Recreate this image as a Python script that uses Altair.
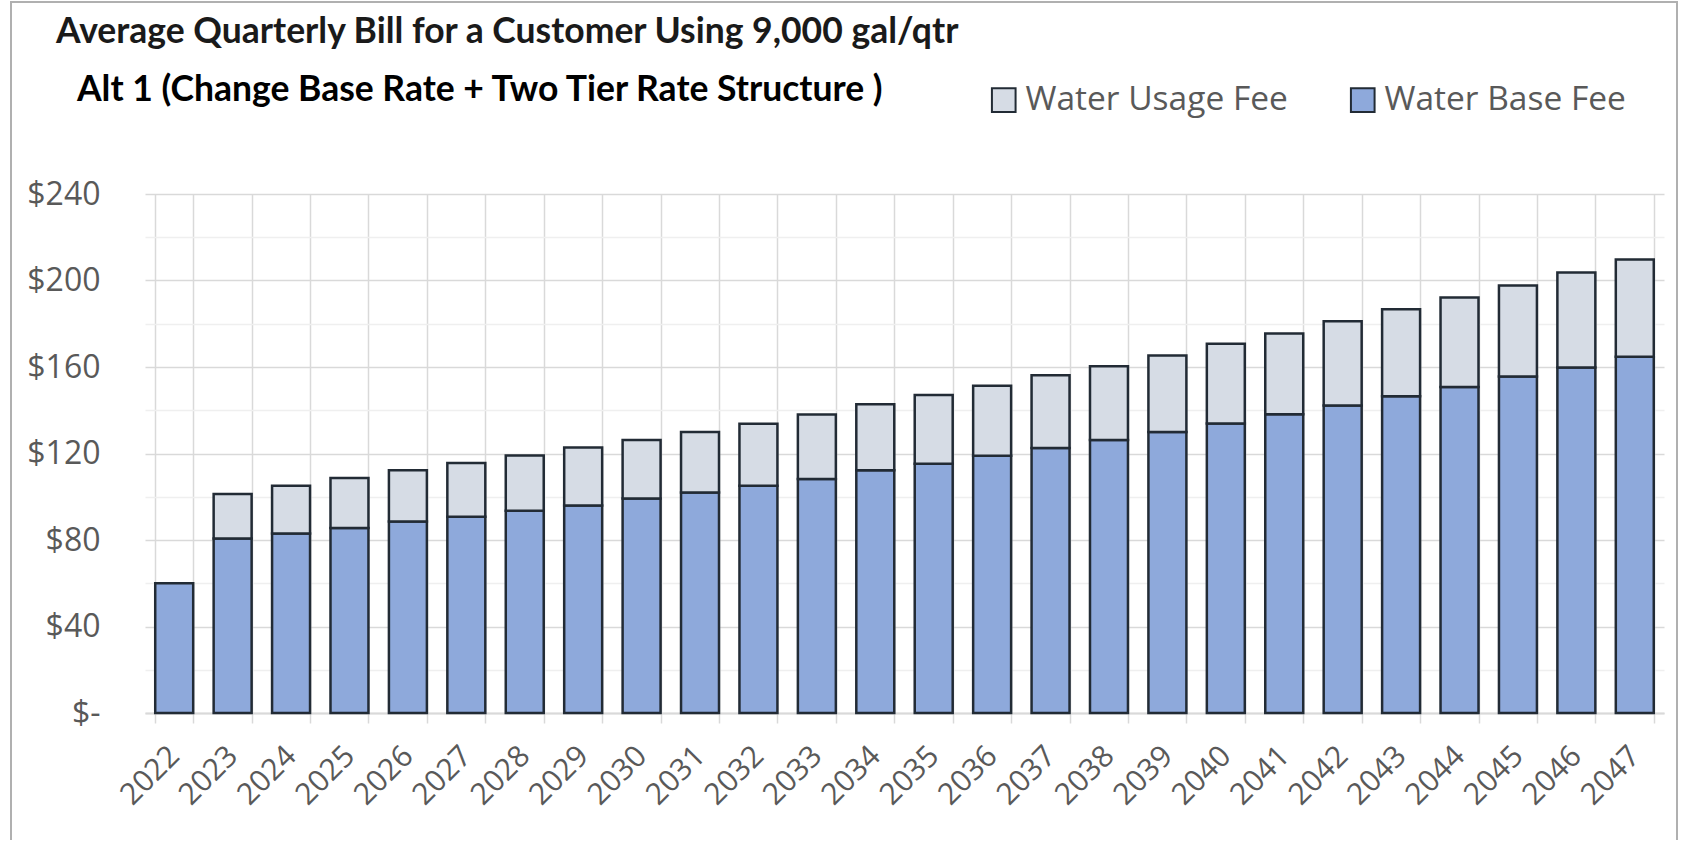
import altair as alt
import pandas as pd

# Quarterly bill components per year (USD)
years = [str(y) for y in range(2022, 2048)]
base_fee = [60.0, 80.7, 83.0, 85.5, 88.6, 90.7, 93.5, 96.0, 99.2, 102.0, 105.1, 108.2, 112.3,
            115.3, 119.0, 122.6, 126.3, 130.0, 133.9, 138.1, 142.2, 146.5, 150.7, 155.6, 159.8, 164.7]
usage_fee = [None, 20.6, 22.1, 23.2, 23.6, 24.9, 25.6, 26.8, 27.1, 28.0, 28.7, 29.8, 30.5,
             31.7, 32.3, 33.6, 34.1, 35.3, 36.8, 37.4, 39.0, 40.2, 41.4, 42.1, 43.9, 45.0]

series = ["Water Usage Fee", "Water Base Fee"]
series_colors = ["#D6DCE5", "#8EA9DB"]

title_text = "Average Quarterly Bill for a Customer Using 9,000 gal/qtr"
subtitle_text = "Alt 1 (Change Base Rate + Two Tier Rate Structure )"

rows = []
for yr, b, u in zip(years, base_fee, usage_fee):
    rows.append({"year": yr, "series": "Water Base Fee", "value": b, "rank": 0})
    if u is not None:
        rows.append({"year": yr, "series": "Water Usage Fee", "value": u, "rank": 1})
df = pd.DataFrame(rows)

LABEL_GREY = "#595959"
GRID = "#D9D9D9"
EDGE = "#222B35"

bars = alt.Chart(df).mark_bar(stroke=EDGE, strokeWidth=2.5, opacity=1).encode(
    x=alt.X(
        "year:N",
        sort=years,
        scale=alt.Scale(paddingInner=0.35, paddingOuter=0.175),
        axis=alt.Axis(
            title=None,
            labelAngle=-45,
            labelAlign="right",
            labelBaseline="middle",
            labelFont="Open Sans",
            labelFontSize=30,
            labelColor=LABEL_GREY,
            labelPadding=28,
            tickBand="extent",
            ticks=True,
            tickSize=10,
            tickColor=GRID,
            tickWidth=1.5,
            grid=True,
            gridColor=GRID,
            gridWidth=1.5,
            domainColor=GRID,
            domainWidth=2,
        ),
    ),
    y=alt.Y(
        "value:Q",
        stack="zero",
        scale=alt.Scale(domain=[0, 240], nice=False),
        axis=alt.Axis(
            title=None,
            values=list(range(0, 241, 20)),
            labelExpr="datum.value % 40 != 0 ? '' : (datum.value == 0 ? '$-' : '$' + datum.value)",
            labelFont="Open Sans",
            labelFontSize=32,
            labelColor=LABEL_GREY,
            labelPadding=45,
            labelOverlap=False,
            labelFlush=False,
            ticks=False,
            tickSize=0,
            domain=False,
            grid=True,
            gridColor={"condition": {"test": "datum.value % 40 === 0", "value": GRID},
                       "value": "#EFEFEF"},
            gridWidth=1.5,
        ),
    ),
    color=alt.Color(
        "series:N",
        scale=alt.Scale(domain=series, range=series_colors),
        legend=alt.Legend(
            title=None,
            orient="none",
            legendX=842,
            legendY=-111,
            direction="horizontal",
            symbolType="square",
            symbolSize=560,
            symbolStrokeColor=EDGE,
            symbolStrokeWidth=2,
            symbolOpacity=1,
            labelFont="Open Sans",
            labelFontSize=33.5,
            labelColor=LABEL_GREY,
            labelOffset=5,
            labelLimit=500,
            columnPadding=58,
            padding=0,
        ),
    ),
    order=alt.Order("rank:Q"),
)

# Outer chart frame
frame = alt.Chart(pd.DataFrame({"f": [0]})).mark_rect(
    fillOpacity=0, stroke="#B0B0B0", strokeWidth=2
).encode(
    x=alt.value(-134), x2=alt.value(1532), y=alt.value(-192), y2=alt.value(700)
)

title_mark = alt.Chart(pd.DataFrame({"t": [title_text]})).mark_text(
    align="left", baseline="alphabetic", font="Lato", fontWeight="bold",
    fontSize=35.5, color="#1A1A1A"
).encode(text="t:N", x=alt.value(-89), y=alt.value(-151))

subtitle_mark = alt.Chart(pd.DataFrame({"t": [subtitle_text]})).mark_text(
    align="left", baseline="alphabetic", font="Lato", fontWeight="bold",
    fontSize=35.5, color="#000000"
).encode(text="t:N", x=alt.value(-68), y=alt.value(-93))

chart = alt.layer(frame, bars, title_mark, subtitle_mark).properties(
    width=1519,
    height=519,
    padding={"left": 145, "top": 194, "right": 17, "bottom": 127},
    autosize=alt.AutoSizeParams(type="none"),
    background="white",
).configure_view(stroke=None)

chart.save("out.html", embed_options={"renderer": "svg", "actions": False})
